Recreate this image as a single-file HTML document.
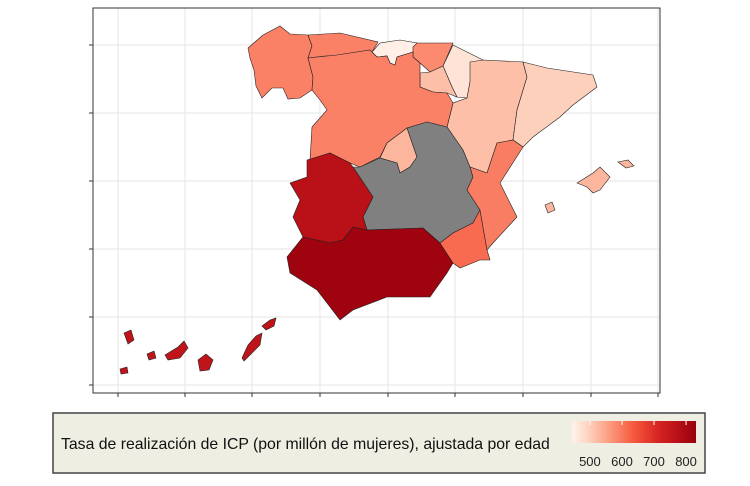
<!DOCTYPE html>
<html><head><meta charset="utf-8"><style>
body{margin:0;background:#fff;width:750px;height:481px;overflow:hidden;font-family:"Liberation Sans",sans-serif}
</style></head><body>
<svg id="chart" width="750" height="481">
<defs><linearGradient id="lg" x1="0" x2="1" y1="0" y2="0"></linearGradient></defs>
<rect x="93" y="8" width="567" height="385" fill="#fff" stroke="#333" stroke-width="1"/>
<g id="grid"></g>
<g id="map"></g>
<rect x="93" y="8" width="567" height="385" fill="none" stroke="#333" stroke-width="1"/>
<g id="ticks"></g>
<rect x="53" y="413" width="652" height="60" fill="#eeeee2" stroke="#444" stroke-width="1.5"/>
<text x="61" y="449" font-size="15.8" fill="#111">Tasa de realización de ICP (por millón de mujeres), ajustada por edad</text>
<rect x="572" y="421" width="124" height="22" fill="url(#lg)"/>
<g id="leg"></g>
</svg>
<script>
const regions=["galicia","asturias","cantabria","pais-vasco","navarra","la-rioja","aragon","cataluna","castilla-y-leon","madrid","castilla-la-mancha","extremadura","andalucia","murcia","valencia","baleares","canarias"];
const values=[590,590,450,580,470,520,520,500,590,530,null,770,820,615,595,530,760];
const legendTicks=[500,600,700,800];
const shapes={
"galicia":[[248,48],[263,35],[280,26],[290,34],[308,35],[312,46],[308,58],[313,77],[312,90],[300,98],[288,99],[283,88],[272,88],[262,98],[256,86],[254,70],[250,58]],
"asturias":[[308,35],[340,33],[378,42],[372,52],[350,55],[325,56],[308,58],[312,46]],
"cantabria":[[372,52],[380,43],[400,40],[417,43],[413,52],[397,57],[395,65],[390,63],[387,56],[377,57]],
"pais-vasco":[[413,47],[417,43],[453,43],[443,66],[430,72],[420,63],[413,57]],
"navarra":[[443,66],[453,45],[483,60],[470,82],[467,98],[457,97],[452,87]],
"la-rioja":[[420,73],[430,72],[443,66],[452,87],[457,97],[447,93],[433,92],[420,87]],
"aragon":[[470,62],[483,60],[523,62],[527,77],[517,110],[513,140],[497,143],[487,173],[470,167],[463,150],[447,127],[453,103],[467,98],[470,82]],
"cataluna":[[523,62],[547,68],[593,75],[597,87],[573,105],[560,117],[533,137],[523,147],[513,140],[517,110],[527,77]],
"castilla-y-leon":[[308,58],[337,55],[370,50],[377,57],[387,56],[390,63],[395,65],[397,57],[413,52],[413,57],[420,63],[420,87],[433,92],[447,93],[453,103],[447,127],[427,122],[407,128],[387,143],[380,157],[360,167],[350,163],[330,153],[310,160],[312,127],[327,110],[320,100],[312,90],[313,77]],
"madrid":[[387,143],[407,128],[417,157],[410,167],[400,173],[397,163],[380,158]],
"castilla-la-mancha":[[407,128],[427,122],[447,127],[463,150],[470,167],[473,177],[467,190],[480,210],[473,223],[453,233],[440,243],[423,228],[367,230],[363,217],[373,197],[353,167],[360,167],[380,158],[397,163],[400,173],[410,167],[417,157]],
"extremadura":[[307,160],[330,153],[350,163],[353,167],[373,197],[363,217],[367,230],[353,227],[343,240],[330,243],[303,237],[293,217],[300,200],[290,183],[307,177]],
"andalucia":[[303,237],[330,243],[343,240],[353,227],[367,230],[423,228],[440,243],[453,263],[447,273],[430,297],[387,297],[353,310],[340,320],[317,290],[290,273],[287,257]],
"murcia":[[440,243],[453,233],[473,223],[480,210],[487,250],[490,260],[480,260],[460,268],[453,263]],
"valencia":[[470,167],[487,173],[497,143],[513,140],[523,147],[500,183],[517,217],[493,243],[487,250],[480,210],[467,190],[473,177]],
"baleares":[[[577,183],[593,173],[600,167],[610,177],[600,190],[593,193],[587,187]],[[618,162],[628,160],[634,166],[626,168]],[[545,205],[552,202],[555,210],[548,213]]],
"canarias":[[[124,333],[131,330],[134,340],[128,344]],[[147,354],[154,351],[156,358],[149,360]],[[120,369],[127,367],[128,373],[121,374]],[[165,355],[178,347],[184,341],[188,348],[180,358],[168,360]],[[198,360],[206,354],[213,360],[209,370],[200,371]],[[242,358],[248,345],[256,336],[262,333],[260,345],[250,355],[244,361]],[[262,326],[270,320],[276,318],[274,326],[266,330]]]
};
const stops=[[440,[255,245,240]],[500,[253,208,188]],[560,[252,156,127]],[640,[246,85,60]],[720,[212,32,32]],[830,[153,0,13]]];
function colorScale(v){
  if(v==null) return "#808080";
  if(v<=stops[0][0]) return "rgb("+stops[0][1]+")";
  for(let i=1;i<stops.length;i++){
    if(v<=stops[i][0]){const a=stops[i-1],b=stops[i],t=(v-a[0])/(b[0]-a[0]);
      return "rgb("+a[1].map((c,k)=>Math.round(c+(b[1][k]-c)*t)).join(",")+")";}
  }
  return "rgb("+stops[stops.length-1][1]+")";
}
const NS="http://www.w3.org/2000/svg";
const xGrid=[118,185,252,320,388,455,523,591,658], yGrid=[45,113,181,249,317,385];
const grid=document.getElementById("grid"), ticks=document.getElementById("ticks");
xGrid.forEach(x=>{
  const l=document.createElementNS(NS,"line");l.setAttribute("x1",x);l.setAttribute("x2",x);l.setAttribute("y1",8);l.setAttribute("y2",393);l.setAttribute("stroke","#e6e6e6");
  
  
  grid.appendChild(l);
  const t=document.createElementNS(NS,"line");t.setAttribute("x1",x);t.setAttribute("x2",x);t.setAttribute("y1",393);t.setAttribute("y2",397);t.setAttribute("stroke","#333");
  
  
  ticks.appendChild(t);
});
yGrid.forEach(y=>{
  const l=document.createElementNS(NS,"line");l.setAttribute("x1",93);l.setAttribute("x2",660);l.setAttribute("y1",y);l.setAttribute("y2",y);l.setAttribute("stroke","#e6e6e6");
  
  
  grid.appendChild(l);
  const t=document.createElementNS(NS,"line");t.setAttribute("x1",89);t.setAttribute("x2",93);t.setAttribute("y1",y);t.setAttribute("y2",y);t.setAttribute("stroke","#333");
  
  
  ticks.appendChild(t);
});
const map=document.getElementById("map");
regions.forEach((r,i)=>{
  let s=shapes[r]; if(typeof s[0][0]==="number") s=[s];
  s.forEach(poly=>{
    const p=document.createElementNS(NS,"polygon");
    p.setAttribute("points",poly.map(q=>q.join(",")).join(" "));
    p.setAttribute("fill",colorScale(values[i]));
    p.setAttribute("stroke","#222");p.setAttribute("stroke-width","0.6");
    
    
    map.appendChild(p);
  });
});
const lg=document.getElementById("lg");
const lmin=444,lmax=831;
for(let k=0;k<=10;k++){const v=lmin+(lmax-lmin)*k/10;const st=document.createElementNS(NS,"stop");st.setAttribute("offset",(k*10)+"%");st.setAttribute("stop-color",colorScale(v));lg.appendChild(st);}
const leg=document.getElementById("leg");
const lx=v=>572+(v-lmin)/(lmax-lmin)*124;
legendTicks.forEach(v=>{
  const t=document.createElementNS(NS,"text");t.setAttribute("x",lx(v));t.setAttribute("y",466);t.setAttribute("font-size","13");t.setAttribute("text-anchor","middle");t.setAttribute("fill","#222");t.textContent=v;
  
  
  leg.appendChild(t);
  const m=document.createElementNS(NS,"line");m.setAttribute("x1",lx(v));m.setAttribute("x2",lx(v));m.setAttribute("y1",421);m.setAttribute("y2",425);m.setAttribute("stroke","#fff");
  
  
  leg.appendChild(m);
});
</script>
</body></html>
